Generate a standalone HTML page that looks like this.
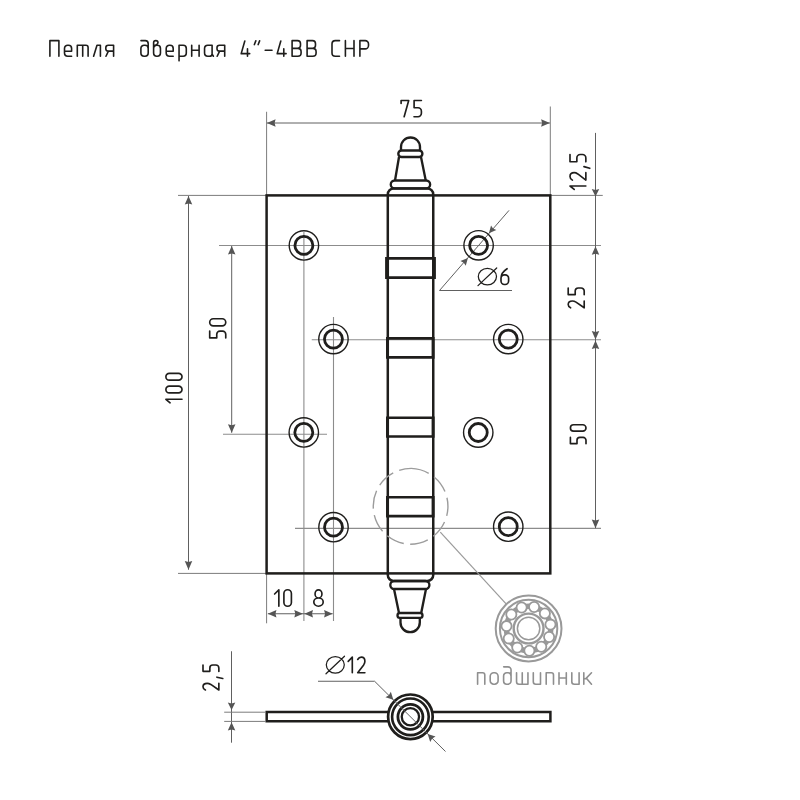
<!DOCTYPE html>
<html><head><meta charset="utf-8"><style>
html,body{margin:0;padding:0;background:#fff;}
body{width:800px;height:800px;overflow:hidden;font-family:"Liberation Sans",sans-serif;}
svg{display:block;}
</style></head><body>
<svg width="800" height="800" viewBox="0 0 800 800">
<rect width="800" height="800" fill="#fff"/>
<line x1="219" y1="245.45" x2="601" y2="245.45" stroke="#8c8c8c" stroke-width="1.1" />
<line x1="311.75" y1="339.8" x2="601" y2="339.8" stroke="#8c8c8c" stroke-width="1.1" />
<line x1="223" y1="434.3" x2="327" y2="434.3" stroke="#8c8c8c" stroke-width="1.1" />
<line x1="295" y1="528.4" x2="601" y2="528.4" stroke="#8c8c8c" stroke-width="1.1" />
<line x1="303.9" y1="232" x2="303.9" y2="621" stroke="#8c8c8c" stroke-width="1.1" />
<line x1="333.5" y1="317" x2="333.5" y2="621" stroke="#8c8c8c" stroke-width="1.1" />
<line x1="266.6" y1="111.75" x2="266.6" y2="195.4" stroke="#7c7c7c" stroke-width="1.0" />
<line x1="550.3" y1="106.5" x2="550.3" y2="195.4" stroke="#7c7c7c" stroke-width="1.0" />
<line x1="266.6" y1="573.4" x2="266.6" y2="623.3" stroke="#7c7c7c" stroke-width="1.0" />
<line x1="178" y1="195.4" x2="266.6" y2="195.4" stroke="#7c7c7c" stroke-width="1.0" />
<line x1="178" y1="573.4" x2="266.6" y2="573.4" stroke="#7c7c7c" stroke-width="1.0" />
<line x1="550.3" y1="195.4" x2="602.75" y2="195.4" stroke="#7c7c7c" stroke-width="1.0" />
<line x1="266.9" y1="123" x2="549.9" y2="123" stroke="#606060" stroke-width="1.0" />
<path d="M266.9,123 L275.6,119.25 L274.6,123 L275.6,126.75 Z" fill="#555"/>
<path d="M549.9,123 L541.1,126.75 L542.1,123 L541.1,119.25 Z" fill="#555"/>
<line x1="188.5" y1="196" x2="188.5" y2="569.7" stroke="#606060" stroke-width="1.0" />
<path d="M188.5,196 L192.25,204.6 L188.5,203.6 L184.75,204.6 Z" fill="#555"/>
<path d="M188.5,569.7 L184.75,560.9 L188.5,561.9 L192.25,560.9 Z" fill="#555"/>
<line x1="231.7" y1="246" x2="231.7" y2="432.75" stroke="#606060" stroke-width="1.0" />
<path d="M231.7,246 L235.45,254.6 L231.7,253.6 L227.95,254.6 Z" fill="#555"/>
<path d="M231.7,432.75 L227.95,424.15 L231.7,425.15 L235.45,424.15 Z" fill="#555"/>
<line x1="595.5" y1="132.9" x2="595.5" y2="528.2" stroke="#606060" stroke-width="1.0" />
<path d="M595.5,196.5 L591.75,189 L595.5,190 L599.25,189 Z" fill="#555"/>
<path d="M595.5,246.2 L599.25,254.8 L595.5,253.8 L591.75,254.8 Z" fill="#555"/>
<path d="M595.5,339.5 L591.75,330.9 L595.5,331.9 L599.25,330.9 Z" fill="#555"/>
<path d="M595.5,340.5 L599.25,349.1 L595.5,348.1 L591.75,349.1 Z" fill="#555"/>
<path d="M595.5,528.2 L591.75,519.6 L595.5,520.6 L599.25,519.6 Z" fill="#555"/>
<line x1="267.85" y1="613.75" x2="332.65" y2="613.75" stroke="#606060" stroke-width="1.0" />
<path d="M267.85,613.75 L276.45,610 L275.45,613.75 L276.45,617.5 Z" fill="#555"/>
<path d="M302.9,613.75 L294.3,617.5 L295.3,613.75 L294.3,610 Z" fill="#555"/>
<path d="M304.4,613.75 L313,610 L312,613.75 L313,617.5 Z" fill="#555"/>
<path d="M332.65,613.75 L324.05,617.5 L325.05,613.75 L324.05,610 Z" fill="#555"/>
<polyline points="512,290.5 439.5,290.5 509,210.4" fill="none" stroke="#606060" stroke-width="1"/>
<path d="M467.9,257.9 L465.76,265.71 L463.77,262.66 L460.47,261.12 Z" fill="#555"/>
<path d="M488.9,233.2 L491.04,225.39 L493.03,228.44 L496.33,229.98 Z" fill="#555"/>
<rect x="266.6" y="195.4" width="283.69999999999993" height="378.0" fill="none" stroke="#1f1e1c" stroke-width="2.5"/>
<circle cx="303.9" cy="245.45" r="14.7" fill="none" stroke="#1f1e1c" stroke-width="1.4"/>
<circle cx="303.9" cy="245.45" r="9.0" fill="none" stroke="#1f1e1c" stroke-width="2.8"/>
<circle cx="478.6" cy="245.3" r="14.7" fill="none" stroke="#1f1e1c" stroke-width="1.4"/>
<circle cx="478.6" cy="245.3" r="9.0" fill="none" stroke="#1f1e1c" stroke-width="2.8"/>
<circle cx="333.45" cy="339.1" r="14.7" fill="none" stroke="#1f1e1c" stroke-width="1.4"/>
<circle cx="333.45" cy="339.1" r="9.0" fill="none" stroke="#1f1e1c" stroke-width="2.8"/>
<circle cx="508.25" cy="339.1" r="14.7" fill="none" stroke="#1f1e1c" stroke-width="1.4"/>
<circle cx="508.25" cy="339.1" r="9.0" fill="none" stroke="#1f1e1c" stroke-width="2.8"/>
<circle cx="303.8" cy="432.4" r="14.7" fill="none" stroke="#1f1e1c" stroke-width="1.4"/>
<circle cx="303.8" cy="432.4" r="9.0" fill="none" stroke="#1f1e1c" stroke-width="2.8"/>
<circle cx="478.25" cy="432.5" r="14.7" fill="none" stroke="#1f1e1c" stroke-width="1.4"/>
<circle cx="478.25" cy="432.5" r="9.0" fill="none" stroke="#1f1e1c" stroke-width="2.8"/>
<circle cx="333.5" cy="527.2" r="14.7" fill="none" stroke="#1f1e1c" stroke-width="1.4"/>
<circle cx="333.5" cy="527.2" r="9.0" fill="none" stroke="#1f1e1c" stroke-width="2.8"/>
<circle cx="508.25" cy="526.7" r="14.7" fill="none" stroke="#1f1e1c" stroke-width="1.4"/>
<circle cx="508.25" cy="526.7" r="9.0" fill="none" stroke="#1f1e1c" stroke-width="2.8"/>
<path fill="none" stroke="#1f1e1c" stroke-width="2.5" stroke-linejoin="round" d="M387.8,194.4 A6,6 0 0 1 393.8,188.4 H427.25 A6,6 0 0 1 433.25,194.4 V575 A6,6 0 0 1 427.25,581 H393.8 A6,6 0 0 1 387.8,575 Z"/>
<path fill="none" stroke="#1f1e1c" stroke-width="2.35" stroke-linejoin="round" d="M394.7,180.5 H426.2 A3.95,3.95 0 0 1 426.2,188.4 H394.7 A3.95,3.95 0 0 1 394.7,180.5 Z"/>
<path fill="none" stroke="#1f1e1c" stroke-width="2.35" stroke-linejoin="round" d="M395,180.5 L399,157 M425.75,180.5 L421,157"/>
<path fill="none" stroke="#1f1e1c" stroke-width="2.35" stroke-linejoin="round" d="M401.55,150.5 H419.15 A3.25,3.25 0 0 1 419.15,157 H401.55 A3.25,3.25 0 0 1 401.55,150.5 Z"/>
<path fill="none" stroke="#1f1e1c" stroke-width="2.35" stroke-linejoin="round" d="M401,150.5 V147 A9.5,9.5 0 0 1 420,147 V150.5"/>
<path fill="none" stroke="#1f1e1c" stroke-width="2.35" stroke-linejoin="round" d="M394.3,581 H425.4 A4,4 0 0 1 425.4,589 H394.3 A4,4 0 0 1 394.3,581 Z"/>
<path fill="none" stroke="#1f1e1c" stroke-width="2.35" stroke-linejoin="round" d="M394,589 L399,613 M426,589 L421.2,613"/>
<path fill="none" stroke="#1f1e1c" stroke-width="2.35" stroke-linejoin="round" d="M399.9,613 H420.1 A2.4,2.4 0 0 1 420.1,617.8 H399.9 A2.4,2.4 0 0 1 399.9,613 Z"/>
<path fill="none" stroke="#1f1e1c" stroke-width="2.35" stroke-linejoin="round" d="M400.5,617.8 V622.5 A9.65,9.65 0 0 0 419.8,622.5 V617.8"/>
<path fill="#1f1e1c" fill-rule="evenodd" d="M385.1,257.1 H435.9 V278.9 H385.1 Z M388.8,259.7 V276.3 H432.2 V259.7 Z"/>
<path fill="#1f1e1c" fill-rule="evenodd" d="M386,337.1 H434.6 V358.7 H386 Z M389,339.7 V356.1 H431.6 V339.7 Z"/>
<path fill="#1f1e1c" fill-rule="evenodd" d="M386,416.4 H434.6 V437.8 H386 Z M389,419 V435.2 H431.6 V419 Z"/>
<path fill="#1f1e1c" fill-rule="evenodd" d="M386,496 H434.6 V517.4 H386 Z M389,498.6 V514.8 H431.6 V498.6 Z"/>
<path d="M411.26,468.41 A37.9,37.9 0 0 1 409.94,544.19 A37.9,37.9 0 0 1 411.26,468.41" fill="none" stroke="#9c9c9c" stroke-width="1.4" stroke-dasharray="18.3 6.5"/>
<line x1="440.3" y1="532.2" x2="506.1" y2="603.9" stroke="#9a9a9a" stroke-width="1.2" />
<g fill="none" stroke="#999">
<circle cx="528.6" cy="628.5" r="32.9" stroke-width="2.0"/>
<circle cx="528.6" cy="628.5" r="28.7" stroke-width="2.0"/>
<circle cx="528.6" cy="628.5" r="22.2" stroke-width="5.5"/>
<circle cx="529.37" cy="650.69" r="5.1" stroke-width="1.8" fill="#fff"/>
<circle cx="517.26" cy="647.58" r="5.1" stroke-width="1.8" fill="#fff"/>
<circle cx="508.74" cy="638.42" r="5.1" stroke-width="1.8" fill="#fff"/>
<circle cx="506.53" cy="626.11" r="5.1" stroke-width="1.8" fill="#fff"/>
<circle cx="511.33" cy="614.55" r="5.1" stroke-width="1.8" fill="#fff"/>
<circle cx="521.61" cy="607.43" r="5.1" stroke-width="1.8" fill="#fff"/>
<circle cx="534.11" cy="607" r="5.1" stroke-width="1.8" fill="#fff"/>
<circle cx="544.87" cy="613.39" r="5.1" stroke-width="1.8" fill="#fff"/>
<circle cx="550.45" cy="624.58" r="5.1" stroke-width="1.8" fill="#fff"/>
<circle cx="549.1" cy="637.02" r="5.1" stroke-width="1.8" fill="#fff"/>
<circle cx="541.24" cy="646.75" r="5.1" stroke-width="1.8" fill="#fff"/>
<circle cx="528.6" cy="628.5" r="14.9" stroke-width="2.4"/>
<circle cx="528.6" cy="628.5" r="11.2" stroke-width="1.5"/>
</g>
<rect x="266.7" y="712.0" width="283.7" height="9.25" fill="none" stroke="#1f1e1c" stroke-width="2.5"/>
<circle cx="410.4" cy="716.8" r="22.3" fill="#fff" stroke="#1f1e1c" stroke-width="2.7"/>
<circle cx="410.4" cy="716.8" r="18.3" fill="none" stroke="#1f1e1c" stroke-width="2.6"/>
<circle cx="410.4" cy="716.8" r="12.5" fill="none" stroke="#1f1e1c" stroke-width="2.8"/>
<circle cx="410.4" cy="716.8" r="8.65" fill="none" stroke="#1f1e1c" stroke-width="2.3"/>
<polyline points="318,681.25 374.6,681.25 445.5,751.5" fill="none" stroke="#606060" stroke-width="1"/>
<path d="M393.32,699.72 L385.47,697.25 L388.87,695.27 L390.85,691.87 Z" fill="#555"/>
<path d="M427.72,734.12 L435.57,736.6 L432.18,738.58 L430.2,741.97 Z" fill="#555"/>
<line x1="231.5" y1="651.25" x2="231.5" y2="742.7" stroke="#606060" stroke-width="1.0" />
<line x1="224.2" y1="712.2" x2="266" y2="712.2" stroke="#7c7c7c" stroke-width="1.0" />
<line x1="224.2" y1="721.4" x2="266" y2="721.4" stroke="#7c7c7c" stroke-width="1.0" />
<path d="M231.55,710.1 L227.8,702.5 L231.55,703.5 L235.3,702.5 Z" fill="#555"/>
<path d="M231.55,722.2 L235.3,730.4 L231.55,729.4 L227.8,730.4 Z" fill="#555"/>
<g transform="translate(400.5,116.75)" fill="none" stroke="#1f1e1c" stroke-width="1.65" stroke-linecap="round" stroke-linejoin="round"><path transform="translate(0.6,0)" d="M0,-13.35 V-16.25 H7.6 L3.04,0"/><path transform="translate(13.5,0)" d="M7.4,-16.25 H0.1 V-9 H4 A3.4,3.4 0 0 1 7.4,-5.6 V-3.4 A3.4,3.4 0 0 1 4,0 H0"/></g>
<g transform="translate(274.6,606.2)" fill="none" stroke="#1f1e1c" stroke-width="1.65" stroke-linecap="round" stroke-linejoin="round"><path transform="translate(0,0)" d="M0,-12.2 L4.25,-16.4 V0"/><path transform="translate(9.3,0)" d="M0,-12.7 A3.7,3.7 0 0 1 7.5,-12.7 V-3.7 A3.7,3.7 0 0 1 0,-3.7 Z"/></g>
<g transform="translate(313.8,606.2)" fill="none" stroke="#1f1e1c" stroke-width="1.65" stroke-linecap="round" stroke-linejoin="round"><path transform="translate(0,0)" d="M4.7,-16.4 A3.45,4.1 0 1 1 4.7,-8.2 A3.45,4.1 0 1 1 4.7,-16.4 Z M4.7,-8.2 A4.7,4.1 0 1 1 4.7,0 A4.7,4.1 0 1 1 4.7,-8.2 Z"/></g>
<g transform="translate(478.3,284.5)" fill="none" stroke="#1f1e1c" stroke-width="1.25" stroke-linecap="round" stroke-linejoin="round"><path transform="translate(0,0)" d="M0,-7.9 A9.1,8.3 0 1 1 18.2,-7.9 A9.1,8.3 0 1 1 0,-7.9 Z M-0.3,1.1 L18.4,-16.5"/></g>
<g transform="translate(478.3,284.5)" fill="none" stroke="#1f1e1c" stroke-width="1.65" stroke-linecap="round" stroke-linejoin="round"><path transform="translate(22.7,0)" d="M6.08,-15.8 C2.58,-13.6 0,-10.5 0,-6.2 V-3.4 A3.4,3.4 0 0 0 3.4,0 H4.2 A3.4,3.4 0 0 0 7.6,-3.4 V-6.2 A3.4,3.4 0 0 0 4.2,-9.6 H3.4 A3.4,3.4 0 0 0 0,-6.2"/></g>
<g transform="translate(326.3,672.7)" fill="none" stroke="#1f1e1c" stroke-width="1.25" stroke-linecap="round" stroke-linejoin="round"><path transform="translate(0,0)" d="M0,-7.9 A9,8.3 0 1 1 18,-7.9 A9,8.3 0 1 1 0,-7.9 Z M-0.3,1.1 L18.2,-16.5"/></g>
<g transform="translate(326.3,672.7)" fill="none" stroke="#1f1e1c" stroke-width="1.65" stroke-linecap="round" stroke-linejoin="round"><path transform="translate(21.9,0)" d="M0,-11.4 L4.1,-15.6 V0"/><path transform="translate(31.4,0)" d="M0,-13.2 C1.01,-15 2.3,-15.6 3.6,-15.6 C5.62,-15.6 7.2,-14.2 7.2,-11.4 C7.2,-10 6.62,-8.8 5.98,-7.8 L0,0 H7.2"/></g>
<g transform="translate(182,402.8) rotate(-90)" fill="none" stroke="#1f1e1c" stroke-width="1.65" stroke-linecap="round" stroke-linejoin="round"><path transform="translate(0,0)" d="M0,-11.9 L3.5,-16.1 V0"/><path transform="translate(9.9,0)" d="M0,-12.68 A3.42,3.42 0 0 1 6.85,-12.68 V-3.42 A3.42,3.42 0 0 1 0,-3.42 Z"/><path transform="translate(22.6,0)" d="M0,-12.68 A3.42,3.42 0 0 1 6.85,-12.68 V-3.42 A3.42,3.42 0 0 1 0,-3.42 Z"/></g>
<g transform="translate(225.75,338) rotate(-90)" fill="none" stroke="#1f1e1c" stroke-width="1.65" stroke-linecap="round" stroke-linejoin="round"><path transform="translate(0,0)" d="M6.9,-16.05 H0.1 V-9 H3.75 A3.15,3.15 0 0 1 6.9,-5.85 V-3.15 A3.15,3.15 0 0 1 3.75,0 H0"/><path transform="translate(12.1,0)" d="M0,-12.5 A3.55,3.55 0 0 1 7.1,-12.5 V-3.55 A3.55,3.55 0 0 1 0,-3.55 Z"/></g>
<g transform="translate(585.85,189.4) rotate(-90)" fill="none" stroke="#1f1e1c" stroke-width="1.65" stroke-linecap="round" stroke-linejoin="round"><path transform="translate(0,0)" d="M0,-11.65 L3.4,-15.85 V0"/><path transform="translate(9.3,0)" d="M0,-13.45 C1.04,-15.25 2.37,-15.85 3.7,-15.85 C5.77,-15.85 7.4,-14.45 7.4,-11.65 C7.4,-10.25 6.81,-9.05 6.14,-8.05 L0,0 H7.4"/><path transform="translate(21.1,0)" d="M1.7,-1.9 L0,3.9"/><path transform="translate(27.55,0)" d="M7.35,-15.85 H0.1 V-9 H3.97 A3.38,3.38 0 0 1 7.35,-5.62 V-3.38 A3.38,3.38 0 0 1 3.97,0 H0"/></g>
<g transform="translate(584.2,307.8) rotate(-90)" fill="none" stroke="#1f1e1c" stroke-width="1.65" stroke-linecap="round" stroke-linejoin="round"><path transform="translate(0,0)" d="M0,-13.6 C0.95,-15.4 2.18,-16 3.4,-16 C5.3,-16 6.8,-14.6 6.8,-11.8 C6.8,-10.4 6.26,-9.2 5.64,-8.2 L0,0 H6.8"/><path transform="translate(13,0)" d="M6.8,-16 H0.1 V-9 H3.7 A3.1,3.1 0 0 1 6.8,-5.9 V-3.1 A3.1,3.1 0 0 1 3.7,0 H0"/></g>
<g transform="translate(586,443.8) rotate(-90)" fill="none" stroke="#1f1e1c" stroke-width="1.65" stroke-linecap="round" stroke-linejoin="round"><path transform="translate(0,0)" d="M6.4,-15.6 H0.1 V-9 H3.5 A2.9,2.9 0 0 1 6.4,-6.1 V-2.9 A2.9,2.9 0 0 1 3.5,0 H0"/><path transform="translate(12.6,0)" d="M0,-12.4 A3.2,3.2 0 0 1 6.4,-12.4 V-3.2 A3.2,3.2 0 0 1 0,-3.2 Z"/></g>
<g transform="translate(218.85,690) rotate(-90)" fill="none" stroke="#1f1e1c" stroke-width="1.65" stroke-linecap="round" stroke-linejoin="round"><path transform="translate(0,0)" d="M0,-13.45 C0.94,-15.25 2.14,-15.85 3.35,-15.85 C5.23,-15.85 6.7,-14.45 6.7,-11.65 C6.7,-10.25 6.16,-9.05 5.56,-8.05 L0,0 H6.7"/><path transform="translate(11.5,0)" d="M1.3,-1.9 L0,3.9"/><path transform="translate(18.55,0)" d="M6.45,-15.85 H0.1 V-9 H3.52 A2.93,2.93 0 0 1 6.45,-6.07 V-2.93 A2.93,2.93 0 0 1 3.52,0 H0"/></g>
<g transform="translate(0,56.25)" fill="none" stroke="#1f1e1c" stroke-width="1.6" stroke-linecap="round" stroke-linejoin="round"><path transform="translate(49.9,0)" d="M0,0 V-15.6 H9 V0"/><path transform="translate(64.5,0)" d="M7.1,0 H3.2 A3.2,3.2 0 0 1 0,-3.2 V-7.8 A3.2,3.2 0 0 1 3.2,-11 H3.9 A3.2,3.2 0 0 1 7.1,-7.8 V-4.95 H0"/><path transform="translate(77.3,0)" d="M0,0 V-11 H8.6 A2.2,2.2 0 0 1 10.8,-8.8 V0 M5.4,-11 V0"/><path transform="translate(93.6,0)" d="M0,0 L3.4,-11 H6.8 V0"/><path transform="translate(105.8,0)" d="M7.8,0 V-11 H2.5 A2.5,2.5 0 0 0 0,-8.5 V-7.42 A2.3,2.3 0 0 0 2.3,-5.12 H7.8 M2.6,-5.12 L0.2,0"/><path transform="translate(140.9,0)" d="M3.2,-11 H4.1 A3.2,3.2 0 0 1 7.3,-7.8 V-3.2 A3.2,3.2 0 0 1 4.1,0 H3.2 A3.2,3.2 0 0 1 0,-3.2 V-7.8 A3.2,3.2 0 0 1 3.2,-11 Z M7.3,-7.8 V-12.6 A3,3 0 0 0 4.3,-15.6 H0.1"/><path transform="translate(153.6,0)" d="M3.2,-11 H3.65 A3.2,3.2 0 0 1 6.85,-7.8 V-3.2 A3.2,3.2 0 0 1 3.65,0 H3.2 A3.2,3.2 0 0 1 0,-3.2 V-7.8 A3.2,3.2 0 0 1 3.2,-11 Z M0,-7.8 V-13.4 A2.2,2.2 0 0 1 4.4,-13.4 C4.4,-11.8 3,-11.7 1.3,-11"/><path transform="translate(166.2,0)" d="M7,0 H3.2 A3.2,3.2 0 0 1 0,-3.2 V-7.8 A3.2,3.2 0 0 1 3.2,-11 H3.8 A3.2,3.2 0 0 1 7,-7.8 V-4.95 H0"/><path transform="translate(179.05,0)" d="M0,4.6 V-11 H4.05 A3.2,3.2 0 0 1 7.25,-7.8 V-3.2 A3.2,3.2 0 0 1 4.05,0 H0"/><path transform="translate(191.7,0)" d="M0,0 V-11 M7.4,0 V-11 M0,-5.94 H7.4"/><path transform="translate(204.55,0)" d="M7.55,-11 H3.2 A3.2,3.2 0 0 0 0,-7.8 V-3.2 A3.2,3.2 0 0 0 3.2,0 H4.95 A2.6,2.6 0 0 0 7.55,-2.6 M7.55,-11 V-2.2 L8.85,0"/><path transform="translate(217,0)" d="M7.7,0 V-11 H2.5 A2.5,2.5 0 0 0 0,-8.5 V-7.42 A2.3,2.3 0 0 0 2.3,-5.12 H7.7 M2.6,-5.12 L0.2,0"/><path transform="translate(241.2,0)" d="M3.6,-15.3 L0,-2.6 H8.5 M6.29,-7.4 V0"/><path transform="translate(254.4,0)" d="M0,-11.7 L1.4,-15.4 M3.8,-11.7 L5.2,-15.4"/><path transform="translate(265.2,0)" d="M0,-6 H6.8"/><path transform="translate(277.2,0)" d="M3.6,-15.3 L0,-2.6 H8.9 M6.59,-7.4 V0"/><path transform="translate(292.1,0)" d="M0,0 V-15.6 H5.4 A3,3 0 0 1 8.4,-12.6 V-10.9 A3,3 0 0 1 5.4,-7.9 H0 M5.4,-7.9 H5.7 A3.3,3.3 0 0 1 9,-4.6 V-3.3 A3.3,3.3 0 0 1 5.7,0 H0"/><path transform="translate(307.1,0)" d="M0,0 V-15.6 H5.4 A3,3 0 0 1 8.4,-12.6 V-10.9 A3,3 0 0 1 5.4,-7.9 H0 M5.4,-7.9 H5.7 A3.3,3.3 0 0 1 9,-4.6 V-3.3 A3.3,3.3 0 0 1 5.7,0 H0"/><path transform="translate(332,0)" d="M7.5,-15.6 H3.3 A3.3,3.3 0 0 0 0,-12.3 V-3.3 A3.3,3.3 0 0 0 3.3,0 H7.5"/><path transform="translate(345.4,0)" d="M0,0 V-15.6 M8.6,0 V-15.6 M0,-7.8 H8.6"/><path transform="translate(359.9,0)" d="M0,0 V-15.6 H5.2 A3.4,3.4 0 0 1 8.6,-12.2 V-10.8 A3.4,3.4 0 0 1 5.2,-7.4 H0"/></g>
<g transform="translate(0,684.2)" fill="none" stroke="#8f8f8f" stroke-width="1.6" stroke-linecap="round" stroke-linejoin="round"><path transform="translate(477.6,0)" d="M0,0 V-11.45 H5 A2.2,2.2 0 0 1 7.2,-9.25 V0"/><path transform="translate(490.2,0)" d="M3.5,-11.45 H4.4 A3.5,3.5 0 0 1 7.9,-7.95 V-3.5 A3.5,3.5 0 0 1 4.4,0 H3.5 A3.5,3.5 0 0 1 0,-3.5 V-7.95 A3.5,3.5 0 0 1 3.5,-11.45 Z"/><path transform="translate(503.6,0)" d="M3.2,-11.45 H4.25 A3.2,3.2 0 0 1 7.45,-8.25 V-3.2 A3.2,3.2 0 0 1 4.25,0 H3.2 A3.2,3.2 0 0 1 0,-3.2 V-8.25 A3.2,3.2 0 0 1 3.2,-11.45 Z M7.45,-8.25 V-14.35 A3,3 0 0 0 4.45,-17.35 H0.1"/><path transform="translate(516.55,0)" d="M0,-11.45 V-2.5 A2.5,2.5 0 0 0 2.5,0 H11.4 V-11.45 M5.7,-11.45 V0"/><path transform="translate(533.3,0)" d="M0,-11.45 V-2.5 A2.5,2.5 0 0 0 2.5,0 H7.2 M7.2,-11.45 V0"/><path transform="translate(546.2,0)" d="M0,0 V-11.45 H5.1 A2.2,2.2 0 0 1 7.3,-9.25 V0"/><path transform="translate(559,0)" d="M0,0 V-11.45 M7.3,0 V-11.45 M0,-6.18 H7.3"/><path transform="translate(571.8,0)" d="M0,-11.45 V-2.5 A2.5,2.5 0 0 0 2.5,0 H7.3 M7.3,-11.45 V0"/><path transform="translate(583.8,0)" d="M0,0 V-11.45 M0,-5.38 H1.8 L7.7,-11.45 M3,-5.38 L7.7,0"/></g>
</svg>
</body></html>
